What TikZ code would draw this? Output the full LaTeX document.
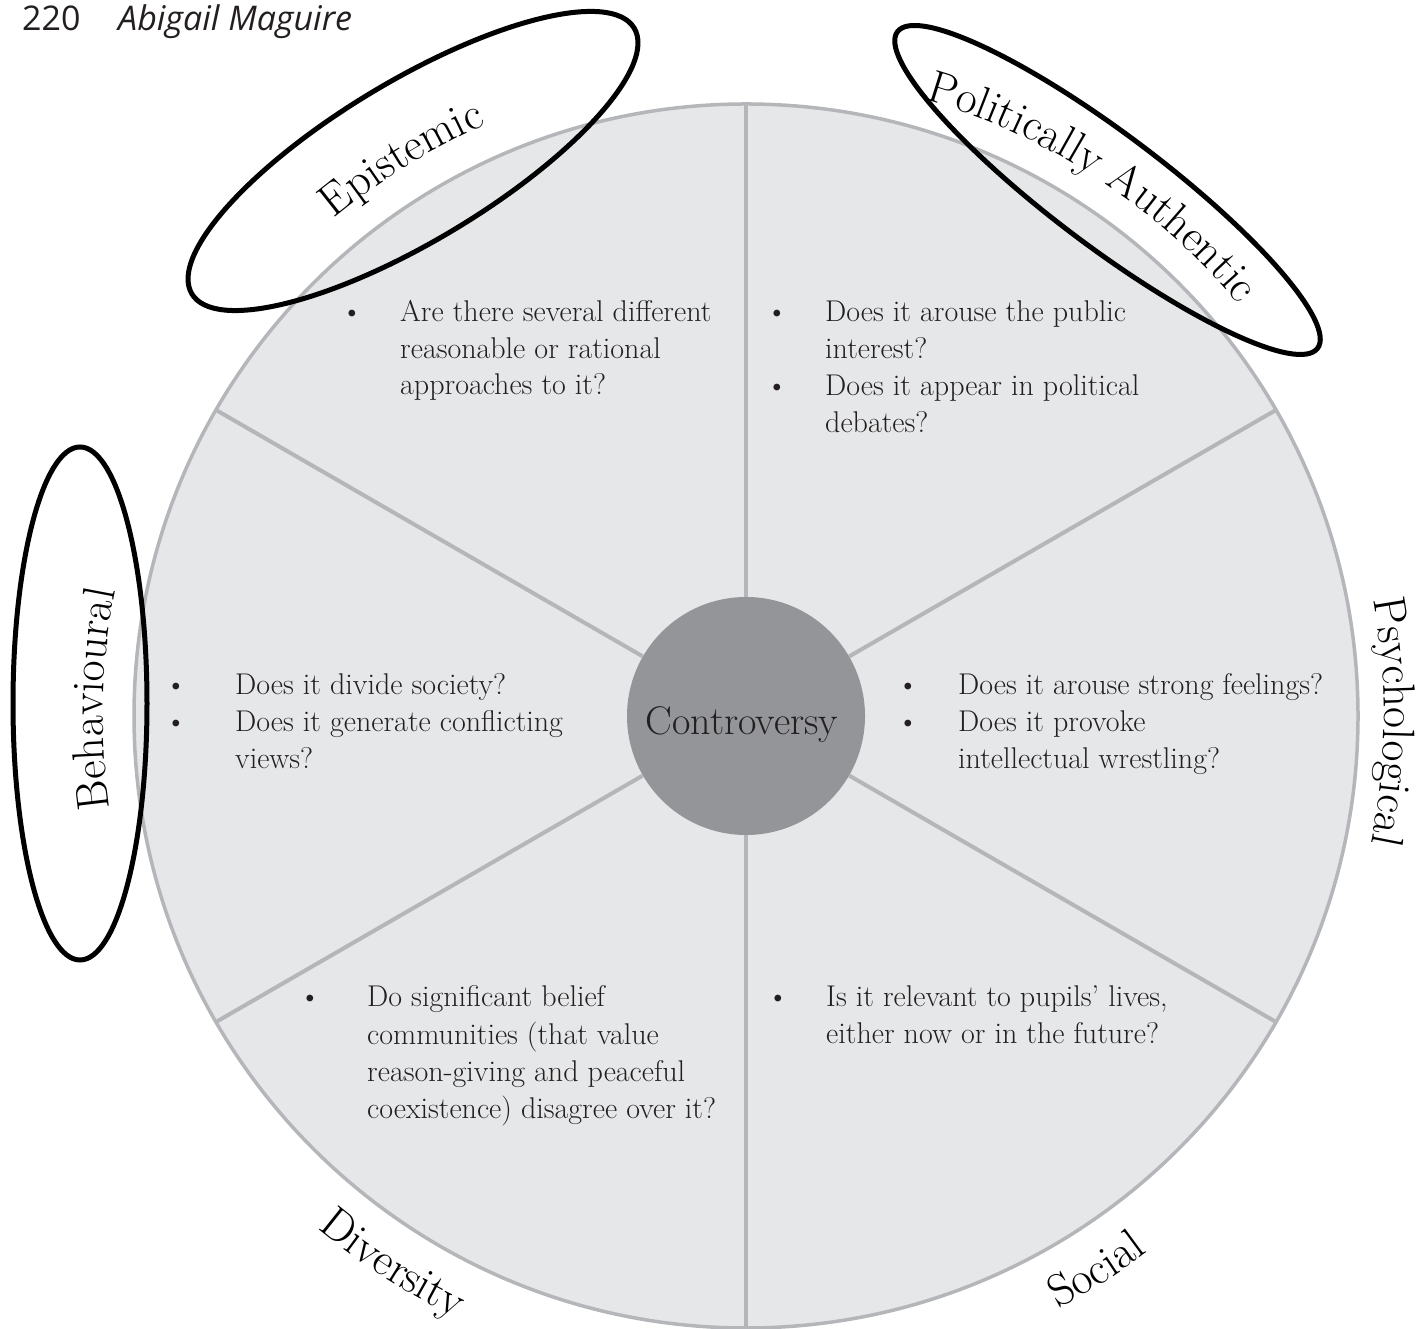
\documentclass[tikz,border=0pt]{standalone}
\usepackage{fontspec}
\newfontfamily\headfont{Open Sans}
\usetikzlibrary{calc,decorations.text}
\definecolor{discfill}{HTML}{E6E7E8}
\definecolor{discline}{HTML}{B4B6B9}
\definecolor{corefill}{HTML}{939598}
\definecolor{ink}{HTML}{231F20}
\newcommand\labelfont{\fontsize{45.5}{45.5}\selectfont}
\newcommand\bodyfont{\fontsize{30}{37}\selectfont}
\newcommand\headsize{\headfont\fontsize{34}{34}\selectfont}

\begin{document}
\begin{tikzpicture}[x=1pt,y=1pt,
  body/.style={font=\bodyfont, text=ink, inner sep=0pt, anchor=base west},
  dot/.style={font=\bodyfont, text=ink, inner sep=0pt, anchor=base},
  spoke/.style={draw=discline, line width=4pt},
  rim/.style={draw=discline, line width=3.5pt},
  ring/.style={draw=black, line width=5pt},
  core/.style={circle, fill=corefill, minimum size=238pt, inner sep=0pt},
  head/.style={font=\headsize, text=ink, inner sep=0pt, anchor=base west},
  arclabel/.style={decorate, decoration={text along path, text align=center,
      text={|\labelfont|#1}}}
]
\useasboundingbox (0,0) rectangle (1420,1329);

% disc with six sectors
\coordinate (C) at (746,613);
\fill[discfill] (C) circle (612pt);
\node[core] (core) at (C) {};
\foreach \a in {30,90,150,210,270,330}{
  \coordinate (rim\a) at ($(C)+(\a:612pt)$);
  \draw[spoke] (core.\a) -- (rim\a);
}
\draw[rim] (C) circle (612pt);
\node[anchor=base, font=\fontsize{40}{40}\selectfont, text=ink, inner sep=0pt]
  (corelabel) at (742,594) {Controversy};

% sector names set along the rim
\path[arclabel=Epistemic] ($(C)+(151.7:646pt)$)
  arc[start angle=151.7, end angle=91.7, radius=646pt];
\path[arclabel=Politically Authentic] ($(C)+(86.8:642pt)$)
  arc[start angle=86.8, end angle=26.8, radius=642pt];
\path[arclabel=Behavioural] ($(C)+(208.5:643pt)$)
  arc[start angle=208.5, end angle=148.5, radius=643pt];
\path[arclabel=Psychological] ($(C)+(29.5:638pt)$)
  arc[start angle=29.5, end angle=-30.5, radius=638pt];
\path[arclabel=Diversity] ($(C)+(207.2:668pt)$)
  arc[start angle=207.2, end angle=267.2, radius=668pt];
\path[arclabel=Social] ($(C)+(272.3:670pt)$)
  arc[start angle=272.3, end angle=332.3, radius=670pt];

% questions in each sector
\node[dot]  (epb)  at (352,1007) {\textbullet};
\node[body] (ep1)  at (400,1007) {Are there several different};
\node[body] (ep2)  at (400,970.5) {reasonable or rational};
\node[body] (ep3)  at (400,934) {approaches to it?};

\node[dot]  (pab1) at (777,1007) {\textbullet};
\node[body] (pa1)  at (825,1007) {Does it arouse the public};
\node[body] (pa2)  at (825,970) {interest?};
\node[dot]  (pab2) at (777,933) {\textbullet};
\node[body] (pa3)  at (825,933) {Does it appear in political};
\node[body] (pa4)  at (825,896) {debates?};

\node[dot]  (beb1) at (176,634) {\textbullet};
\node[body] (be1)  at (235,634) {Does it divide society?};
\node[dot]  (beb2) at (176,597) {\textbullet};
\node[body] (be2)  at (235,597) {Does it generate conflicting};
\node[body] (be3)  at (235,560) {views?};

\node[dot]  (psb1) at (908,634) {\textbullet};
\node[body] (ps1)  at (958,634) {Does it arouse strong feelings?};
\node[dot]  (psb2) at (908,597) {\textbullet};
\node[body] (ps2)  at (958,597) {Does it provoke};
\node[body] (ps3)  at (958,560) {intellectual wrestling?};

\node[dot]  (dib)  at (310,322) {\textbullet};
\node[body] (di1)  at (367,322) {Do significant belief};
\node[body] (di2)  at (367,284) {communities (that value};
\node[body] (di3)  at (367,247) {reason-giving and peaceful};
\node[body] (di4)  at (367,210) {coexistence) disagree over it?};

\node[dot]  (sob)  at (778,322) {\textbullet};
\node[body] (so1)  at (826,322) {Is it relevant to pupils’ lives,};
\node[body] (so2)  at (826,285) {either now or in the future?};

% hand-drawn rings round three of the names
\draw[ring, rotate around={31:(413,1168)}] (413,1168)
  ellipse [x radius=258pt, y radius=80pt];
\draw[ring, rotate around={-37:(1107.5,1139)}] (1107.5,1139)
  ellipse [x radius=263pt, y radius=56pt];
\draw[ring] (80,625.5) ellipse [x radius=67pt, y radius=256.5pt];

% running head
\node[head] (pageno) at (22,1298) {220};
\node[head] (author) at (118,1298) {\itshape Abigail Maguire};
\end{tikzpicture}
\end{document}
